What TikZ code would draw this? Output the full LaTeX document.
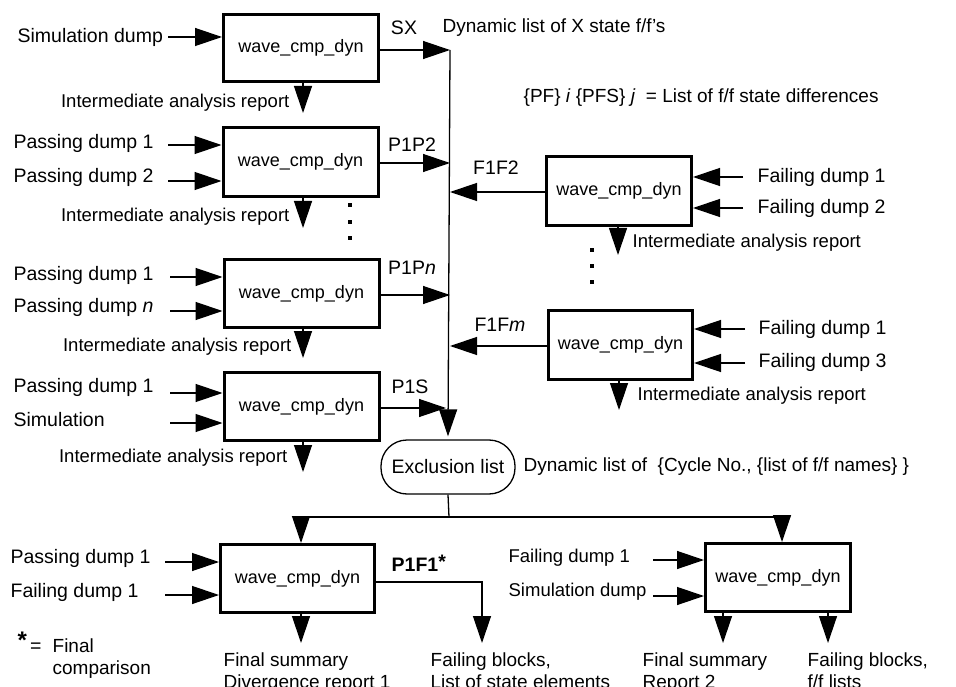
\documentclass[tikz,border=0pt]{standalone}
\usepackage{fontspec}
\setmainfont{Liberation Sans}
\usetikzlibrary{arrows.meta}
\begin{document}
\begin{tikzpicture}[x=1pt,y=-1pt,
  line width=1.3pt,
  arr/.style={-{Triangle[length=27pt,width=18pt]}},
  box/.style={draw,line width=3pt,minimum width=155pt,minimum height=68pt,inner sep=0pt,font=\fontsize{18}{20}\selectfont},
  lbl/.style={inner sep=0pt,font=\fontsize{19.5}{22}\selectfont},
  note/.style={inner sep=0pt,font=\fontsize{19}{22}\selectfont},
  rep/.style={inner sep=0pt,font=\fontsize{18.5}{22}\selectfont},
  mlbl/.style={inner sep=0pt,align=left,font=\fontsize{19}{22}\selectfont},
  dotsq/.style={fill,minimum size=4pt,inner sep=0pt}]
\clip (0,0) rectangle (956,687);

% boxes
\node[box,minimum height=67pt] (b1) at (301,48) {wave\_cmp\_dyn};
\node[box,minimum height=69pt] (b2) at (300.5,162) {wave\_cmp\_dyn};
\node[box] (b3) at (301.5,293.5) {wave\_cmp\_dyn};
\node[box] (b4) at (301.5,406.5) {wave\_cmp\_dyn};
\node[box,minimum width=145pt,minimum height=69pt] (fa) at (619,191) {wave\_cmp\_dyn};
\node[box,minimum width=144pt,minimum height=69pt] (fb) at (620.5,345) {wave\_cmp\_dyn};
\node[box,minimum width=154pt] (c) at (297.5,578.5) {wave\_cmp\_dyn};
\node[box,minimum width=145pt] (d) at (778,577.5) {wave\_cmp\_dyn};
\node[draw,rounded corners=26pt,minimum width=134pt,minimum height=54pt,lbl] (ex) at (448,467) {Exclusion list};

% bus
\coordinate (bt) at (450,50);
\draw[arr] (bt) -- ([yshift=3pt]ex.north);

% box 1
\coordinate (i1) at (168,37);
\draw[arr] (i1) -- (i1 -| b1.west);
\draw[arr] (bt -| b1.east) -- (bt);
\coordinate (r1) at (303,113);
\draw[arr] (r1 |- b1.south) -- (r1);
\node[lbl,anchor=west] (l1) at (17,37) {Simulation dump};
\node[lbl] (sx) at (404,28) {SX};
\node[note,anchor=west] (dx) at (442,28) {Dynamic list of X state f/f’s};
\node[note,anchor=west] (pf) at (523,98) {\{PF\} \textit{i} \{PFS\} \textit{j}\ \ = List of f/f state differences};
\node[rep,anchor=east] (ir1) at (290,103) {Intermediate analysis report};

% box 2
\coordinate (i2a) at (168,145);
\coordinate (i2b) at (168,181);
\draw[arr] (i2a) -- (i2a -| b2.west);
\draw[arr] (i2b) -- (i2b -| b2.west);
\coordinate (o2) at (450,163);
\draw[arr] (o2 -| b2.east) -- (o2);
\coordinate (r2) at (303,228);
\draw[arr] (r2 |- b2.south) -- (r2);
\node[lbl,anchor=west] (l2a) at (13,143) {Passing dump 1};
\node[lbl,anchor=west] (l2b) at (13,177) {Passing dump 2};
\node[lbl] (p1p2) at (412,145) {P1P2};
\node[rep,anchor=east] (ir2) at (290,217) {Intermediate analysis report};

% dots left
\node[dotsq] (dl1) at (350,205) {};
\node[dotsq] (dl2) at (350,222) {};
\node[dotsq] (dl3) at (350,238) {};

% box 3
\coordinate (i3a) at (170,277);
\coordinate (i3b) at (170,311);
\draw[arr] (i3a) -- (i3a -| b3.west);
\draw[arr] (i3b) -- (i3b -| b3.west);
\coordinate (o3) at (450,295);
\draw[arr] (o3 -| b3.east) -- (o3);
\coordinate (r3) at (303,358);
\draw[arr] (r3 |- b3.south) -- (r3);
\node[lbl,anchor=west] (l3a) at (13,275) {Passing dump 1};
\node[lbl,anchor=west] (l3b) at (13,307) {Passing dump \textit{n}};
\node[lbl] (p1pn) at (412,268) {P1P\textit{n}};
\node[rep,anchor=east] (ir3) at (292,347) {Intermediate analysis report};

% box 4
\coordinate (i4a) at (170,393);
\coordinate (i4b) at (170,423);
\draw[arr] (i4a) -- (i4a -| b4.west);
\draw[arr] (i4b) -- (i4b -| b4.west);
\coordinate (o4) at (446,408);
\draw[arr] (o4 -| b4.east) -- (o4);
\coordinate (r4) at (303,472);
\draw[arr] (r4 |- b4.south) -- (r4);
\node[lbl,anchor=west] (l4a) at (13,387) {Passing dump 1};
\node[lbl,anchor=west] (l4b) at (13,420) {Simulation};
\node[lbl] (p1s) at (410,387) {P1S};
\node[rep,anchor=east] (ir4) at (288,458) {Intermediate analysis report};

% right box A
\coordinate (oa) at (450,192);
\draw[arr] (oa -| fa.west) -- (oa);
\coordinate (ia1) at (743,177);
\coordinate (ia2) at (743,208);
\draw[arr] (ia1) -- (ia1 -| fa.east);
\draw[arr] (ia2) -- (ia2 -| fa.east);
\coordinate (ra) at (618,255);
\draw[arr] (ra |- fa.south) -- (ra);
\node[lbl] (f1f2) at (496,168) {F1F2};
\node[lbl,anchor=west] (la1) at (757,177) {Failing dump 1};
\node[lbl,anchor=west] (la2) at (757,208) {Failing dump 2};
\node[rep,anchor=west] (ira) at (632,243) {Intermediate analysis report};

% dots right
\node[dotsq] (dr1) at (592,250) {};
\node[dotsq] (dr2) at (592,266) {};
\node[dotsq] (dr3) at (592,282) {};

% right box B
\coordinate (ob) at (450,346);
\draw[arr] (ob -| fb.west) -- (ob);
\coordinate (ib1) at (745,329);
\coordinate (ib2) at (745,363);
\draw[arr] (ib1) -- (ib1 -| fb.east);
\draw[arr] (ib2) -- (ib2 -| fb.east);
\coordinate (rb) at (619,410);
\draw[arr] (rb |- fb.south) -- (rb);
\node[lbl] (f1fm) at (500,325) {F1F\textit{m}};
\node[lbl,anchor=west] (lb1) at (758,329) {Failing dump 1};
\node[lbl,anchor=west] (lb2) at (758,362) {Failing dump 3};
\node[rep,anchor=west] (irb) at (637,396) {Intermediate analysis report};

% exclusion list
\node[note,anchor=west] (dyn) at (523,467) {Dynamic list of \ \{Cycle No., \{list of f/f names\} \}};
\coordinate (sp) at (449,517);
\draw (ex.south) -- (sp);
\coordinate (spl) at (301,517);
\coordinate (spr) at (782,517);
\draw (spl) -- (spr);
\draw[arr] (spl) -- (spl |- c.north);
\draw[arr] (spr) -- (spr |- d.north);

% bottom left box
\coordinate (ic1) at (165,562);
\coordinate (ic2) at (165,595);
\draw[arr] (ic1) -- (ic1 -| c.west);
\draw[arr] (ic2) -- (ic2 -| c.west);
\coordinate (oc) at (482,582);
\coordinate (oce) at (482,643);
\draw[arr] (oc -| c.east) -- (oc) -- (oce);
\coordinate (rc) at (301,643);
\draw[arr] (rc |- c.south) -- (rc);
\node[lbl,anchor=west] (lc1) at (10,558) {Passing dump 1};
\node[lbl,anchor=west] (lc2) at (10,592) {Failing dump 1};
\node[lbl,anchor=west,font=\bfseries\fontsize{19.5}{22}\selectfont] (p1f1) at (391,563) {P1F1\raisebox{3pt}{*}};
\node[lbl,anchor=base west] (st) at (17,652) {\raisebox{4pt}{\bfseries\fontsize{24}{24}\selectfont *}\,= };
\node[mlbl,anchor=north west] (fin) at (52,638) {Final\\comparison};
\node[mlbl,anchor=north west] (fs1) at (223,652) {Final summary\\Divergence report 1};
\node[mlbl,anchor=north west] (fb1) at (430,652) {Failing blocks,\\List of state elements};

% bottom right box
\coordinate (id1) at (653,560);
\coordinate (id2) at (653,596);
\draw[arr] (id1) -- (id1 -| d.west);
\draw[arr] (id2) -- (id2 -| d.west);
\coordinate (rd1) at (723,643);
\coordinate (rd2) at (828,643);
\draw[arr] (rd1 |- d.south) -- (rd1);
\draw[arr] (rd2 |- d.south) -- (rd2);
\node[rep,anchor=west] (ld1) at (508,558) {Failing dump 1};
\node[rep,anchor=west] (ld2) at (508,592) {Simulation dump};
\node[mlbl,anchor=north west] (fs2) at (642,652) {Final summary\\Report 2};
\node[mlbl,anchor=north west] (fb2) at (807,652) {Failing blocks,\\f/f lists};
\end{tikzpicture}
\end{document}
